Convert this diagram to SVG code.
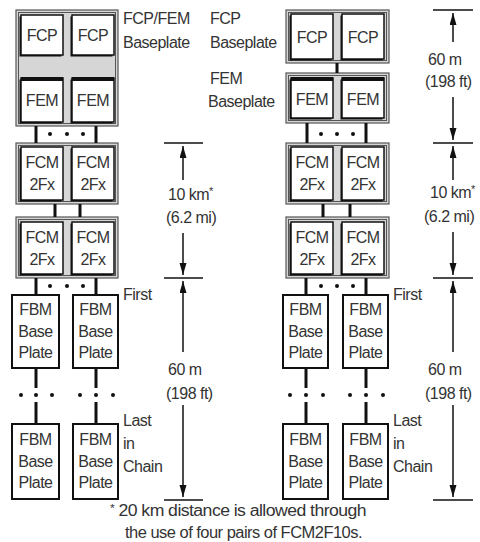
<svg xmlns="http://www.w3.org/2000/svg" width="480" height="542" viewBox="0 0 480 542">
<style>
.bg{fill:#fff}
.bp{fill:#d6d6d6;stroke:#555;stroke-width:1.2}
.bpi{fill:none;stroke:#555;stroke-width:1}
.shd{fill:#111}
.mod{fill:#fff;stroke:#111;stroke-width:1.5}
.fbm{fill:#fff;stroke:#111;stroke-width:2}
.t{font-family:"Liberation Sans",Arial,Helvetica,sans-serif;font-size:16px;fill:#333;letter-spacing:-0.5px}
.c{text-anchor:middle}
.sup{font-size:11px}
.con{stroke:#111;stroke-width:3;fill:none}
.dim{stroke:#111;stroke-width:1.5;fill:none}
.arr{stroke:#111;stroke-width:1.5;fill:none;marker-end:url(#ah)}
.dot{fill:#111}
</style>
<defs>
<marker id="ah" markerUnits="userSpaceOnUse" markerWidth="13" markerHeight="8" refX="12" refY="3.5" orient="auto">
<path d="M0,0 L12,3.5 L0,7 z" fill="#111"/>
</marker>
</defs>
<rect class="bg" x="0" y="0" width="480" height="542"/>

<!-- LEFT COLUMN -->
<g id="left-fcpfem-baseplate">
<rect class="bp" x="16" y="10" width="102" height="116"/>
<rect class="bpi" x="18.5" y="12.5" width="97" height="111"/>
</g>
<g id="left-fcp1">
<rect class="shd" x="19.5" y="16.5" width="42" height="40"/>
<rect class="mod" x="21" y="15" width="42" height="40"/>
<text class="t c" x="42" y="40.5">FCP</text>
</g>
<g id="left-fcp2">
<rect class="shd" x="70.5" y="16.5" width="42" height="40"/>
<rect class="mod" x="72" y="15" width="42" height="40"/>
<text class="t c" x="93" y="40.5">FCP</text>
</g>
<g id="left-fem1">
<rect class="shd" x="19.5" y="79.5" width="42" height="44"/>
<rect class="mod" x="21" y="78" width="42" height="44"/>
<rect class="shd" x="21" y="77" width="42" height="4"/>
<text class="t c" x="42" y="106">FEM</text>
</g>
<g id="left-fem2">
<rect class="shd" x="70.5" y="79.5" width="42" height="44"/>
<rect class="mod" x="72" y="78" width="42" height="44"/>
<rect class="shd" x="72" y="77" width="42" height="4"/>
<text class="t c" x="93" y="106">FEM</text>
</g>

<g id="left-fcm-baseplate1">
<rect class="bp" x="16" y="143" width="102" height="61"/>
<rect class="bpi" x="18.5" y="145.5" width="97" height="56"/>
<rect class="shd" x="19.5" y="148.5" width="42" height="53"/>
<rect class="mod" x="21" y="147" width="42" height="53"/>
<text class="t c" x="42" y="168">FCM</text>
<text class="t c" x="42" y="190">2Fx</text>
<rect class="shd" x="70.5" y="148.5" width="42" height="53"/>
<rect class="mod" x="72" y="147" width="42" height="53"/>
<text class="t c" x="93" y="168">FCM</text>
<text class="t c" x="93" y="190">2Fx</text>
</g>
<g id="left-fcm-baseplate2">
<rect class="bp" x="16" y="217" width="102" height="61"/>
<rect class="bpi" x="18.5" y="219.5" width="97" height="56"/>
<rect class="shd" x="19.5" y="223.5" width="42" height="52"/>
<rect class="mod" x="21" y="222" width="42" height="52"/>
<text class="t c" x="42" y="243">FCM</text>
<text class="t c" x="42" y="265">2Fx</text>
<rect class="shd" x="70.5" y="223.5" width="42" height="52"/>
<rect class="mod" x="72" y="222" width="42" height="52"/>
<text class="t c" x="93" y="243">FCM</text>
<text class="t c" x="93" y="265">2Fx</text>
</g>

<g id="left-fbm-first1">
<rect class="fbm" x="12" y="295" width="47" height="73"/>
<text class="t c" x="35.5" y="315">FBM</text>
<text class="t c" x="35.5" y="337">Base</text>
<text class="t c" x="35.5" y="358">Plate</text>
</g>
<g id="left-fbm-first2">
<rect class="fbm" x="73" y="295" width="45" height="73"/>
<text class="t c" x="95.5" y="315">FBM</text>
<text class="t c" x="95.5" y="337">Base</text>
<text class="t c" x="95.5" y="358">Plate</text>
</g>
<g id="left-fbm-last1">
<rect class="fbm" x="12" y="424" width="47" height="75"/>
<text class="t c" x="35.5" y="445">FBM</text>
<text class="t c" x="35.5" y="467">Base</text>
<text class="t c" x="35.5" y="488">Plate</text>
</g>
<g id="left-fbm-last2">
<rect class="fbm" x="73" y="424" width="45" height="75"/>
<text class="t c" x="95.5" y="445">FBM</text>
<text class="t c" x="95.5" y="467">Base</text>
<text class="t c" x="95.5" y="488">Plate</text>
</g>

<!-- RIGHT COLUMN -->
<g id="right-fcp-baseplate">
<rect class="bp" x="286" y="10" width="103" height="53"/>
<rect class="bpi" x="288.5" y="12.5" width="98" height="48"/>
<rect class="shd" x="289.5" y="15.5" width="42" height="45"/>
<rect class="mod" x="291" y="14" width="42" height="45"/>
<text class="t c" x="312" y="43">FCP</text>
<rect class="shd" x="340.5" y="15.5" width="42" height="45"/>
<rect class="mod" x="342" y="14" width="42" height="45"/>
<text class="t c" x="363" y="43">FCP</text>
</g>
<g id="right-fem-baseplate">
<rect class="bp" x="286" y="73" width="103" height="50"/>
<rect class="bpi" x="288.5" y="75.5" width="98" height="45"/>
<rect class="shd" x="289.5" y="79.5" width="42" height="40"/>
<rect class="mod" x="291" y="78" width="42" height="40"/>
<rect class="shd" x="291" y="77" width="42" height="4"/>
<text class="t c" x="312" y="105">FEM</text>
<rect class="shd" x="340.5" y="79.5" width="42" height="40"/>
<rect class="mod" x="342" y="78" width="42" height="40"/>
<rect class="shd" x="342" y="77" width="42" height="4"/>
<text class="t c" x="363" y="105">FEM</text>
</g>
<g id="right-fcm-baseplate1">
<rect class="bp" x="286" y="143" width="103" height="61"/>
<rect class="bpi" x="288.5" y="145.5" width="98" height="56"/>
<rect class="shd" x="289.5" y="148.5" width="42" height="53"/>
<rect class="mod" x="291" y="147" width="42" height="53"/>
<text class="t c" x="312" y="168">FCM</text>
<text class="t c" x="312" y="190">2Fx</text>
<rect class="shd" x="340.5" y="148.5" width="42" height="53"/>
<rect class="mod" x="342" y="147" width="42" height="53"/>
<text class="t c" x="363" y="168">FCM</text>
<text class="t c" x="363" y="190">2Fx</text>
</g>
<g id="right-fcm-baseplate2">
<rect class="bp" x="286" y="217" width="103" height="61"/>
<rect class="bpi" x="288.5" y="219.5" width="98" height="56"/>
<rect class="shd" x="289.5" y="223.5" width="42" height="52"/>
<rect class="mod" x="291" y="222" width="42" height="52"/>
<text class="t c" x="312" y="243">FCM</text>
<text class="t c" x="312" y="265">2Fx</text>
<rect class="shd" x="340.5" y="223.5" width="42" height="52"/>
<rect class="mod" x="342" y="222" width="42" height="52"/>
<text class="t c" x="363" y="243">FCM</text>
<text class="t c" x="363" y="265">2Fx</text>
</g>
<g id="right-fbm-first1">
<rect class="fbm" x="283" y="295" width="45" height="73"/>
<text class="t c" x="305.5" y="315">FBM</text>
<text class="t c" x="305.5" y="337">Base</text>
<text class="t c" x="305.5" y="358">Plate</text>
</g>
<g id="right-fbm-first2">
<rect class="fbm" x="343" y="295" width="45" height="73"/>
<text class="t c" x="365.5" y="315">FBM</text>
<text class="t c" x="365.5" y="337">Base</text>
<text class="t c" x="365.5" y="358">Plate</text>
</g>
<g id="right-fbm-last1">
<rect class="fbm" x="283" y="424" width="45" height="75"/>
<text class="t c" x="305.5" y="445">FBM</text>
<text class="t c" x="305.5" y="467">Base</text>
<text class="t c" x="305.5" y="488">Plate</text>
</g>
<g id="right-fbm-last2">
<rect class="fbm" x="343" y="424" width="45" height="75"/>
<text class="t c" x="365.5" y="445">FBM</text>
<text class="t c" x="365.5" y="467">Base</text>
<text class="t c" x="365.5" y="488">Plate</text>
</g>

<!-- CONNECTORS -->
<g id="connectors">
<line class="con" x1="36" y1="126" x2="36" y2="143"/>
<line class="con" x1="96" y1="126" x2="96" y2="143"/>
<line class="con" x1="55" y1="204" x2="55" y2="217"/>
<line class="con" x1="80" y1="204" x2="80" y2="217"/>
<line class="con" x1="36" y1="278" x2="36" y2="295"/>
<line class="con" x1="96" y1="278" x2="96" y2="295"/>
<line class="con" x1="36" y1="368" x2="36" y2="388"/>
<line class="con" x1="96" y1="368" x2="96" y2="388"/>
<line class="con" x1="36" y1="402" x2="36" y2="424"/>
<line class="con" x1="96" y1="402" x2="96" y2="424"/>
<line class="con" x1="337" y1="63" x2="337" y2="73"/>
<line class="con" x1="307" y1="123" x2="307" y2="143"/>
<line class="con" x1="366" y1="123" x2="366" y2="143"/>
<line class="con" x1="323" y1="204" x2="323" y2="217"/>
<line class="con" x1="350" y1="204" x2="350" y2="217"/>
<line class="con" x1="306" y1="278" x2="306" y2="295"/>
<line class="con" x1="366" y1="278" x2="366" y2="295"/>
<line class="con" x1="306" y1="368" x2="306" y2="388"/>
<line class="con" x1="366" y1="368" x2="366" y2="388"/>
<line class="con" x1="306" y1="402" x2="306" y2="424"/>
<line class="con" x1="366" y1="402" x2="366" y2="424"/>
<circle class="dot" cx="50" cy="134" r="2"/><circle class="dot" cx="67" cy="134" r="2"/><circle class="dot" cx="83" cy="134" r="2"/>
<circle class="dot" cx="50" cy="286" r="2"/><circle class="dot" cx="67" cy="286" r="2"/><circle class="dot" cx="83" cy="286" r="2"/>
<circle class="dot" cx="21" cy="395" r="2"/><circle class="dot" cx="36" cy="395" r="2"/><circle class="dot" cx="52" cy="395" r="2"/>
<circle class="dot" cx="80" cy="395" r="2"/><circle class="dot" cx="96" cy="395" r="2"/><circle class="dot" cx="113" cy="395" r="2"/>
<circle class="dot" cx="321" cy="134" r="2"/><circle class="dot" cx="337" cy="134" r="2"/><circle class="dot" cx="353" cy="134" r="2"/>
<circle class="dot" cx="321" cy="286" r="2"/><circle class="dot" cx="337" cy="286" r="2"/><circle class="dot" cx="353" cy="286" r="2"/>
<circle class="dot" cx="290" cy="395" r="2"/><circle class="dot" cx="306" cy="395" r="2"/><circle class="dot" cx="323" cy="395" r="2"/>
<circle class="dot" cx="350" cy="395" r="2"/><circle class="dot" cx="366" cy="395" r="2"/><circle class="dot" cx="383" cy="395" r="2"/>
</g>

<!-- DIMENSIONS -->
<g id="dimensions">
<line class="dim" x1="164" y1="143" x2="203" y2="143"/>
<line class="dim" x1="164" y1="278" x2="203" y2="278"/>
<line class="dim" x1="164" y1="500" x2="203" y2="500"/>
<line class="arr" x1="183" y1="180" x2="183" y2="146"/>
<line class="arr" x1="183" y1="233" x2="183" y2="275"/>
<line class="arr" x1="183" y1="352" x2="183" y2="281"/>
<line class="arr" x1="183" y1="405" x2="183" y2="497"/>
<line class="dim" x1="433" y1="10" x2="473" y2="10"/>
<line class="dim" x1="433" y1="143" x2="473" y2="143"/>
<line class="dim" x1="433" y1="278" x2="473" y2="278"/>
<line class="dim" x1="433" y1="500" x2="473" y2="500"/>
<line class="arr" x1="453" y1="42" x2="453" y2="13"/>
<line class="arr" x1="453" y1="97" x2="453" y2="140"/>
<line class="arr" x1="453" y1="180" x2="453" y2="146"/>
<line class="arr" x1="453" y1="232" x2="453" y2="275"/>
<line class="arr" x1="453" y1="352" x2="453" y2="281"/>
<line class="arr" x1="453" y1="405" x2="453" y2="497"/>
</g>

<!-- LABELS -->
<g id="labels">
<text class="t" x="123" y="24">FCP/FEM</text>
<text class="t" x="123" y="48">Baseplate</text>
<text class="t" x="210" y="24">FCP</text>
<text class="t" x="210" y="48">Baseplate</text>
<text class="t" x="210" y="84">FEM</text>
<text class="t" x="208" y="107">Baseplate</text>
<text class="t" x="123" y="300">First</text>
<text class="t" x="393" y="300">First</text>
<text class="t" x="123" y="426">Last</text>
<text class="t" x="123" y="449">in</text>
<text class="t" x="123" y="472">Chain</text>
<text class="t" x="393" y="426">Last</text>
<text class="t" x="393" y="449">in</text>
<text class="t" x="393" y="472">Chain</text>
<text class="t" x="168" y="200">10 km<tspan class="sup" dy="-5">*</tspan></text>
<text class="t" x="166" y="223">(6.2 mi)</text>
<text class="t" x="168" y="375">60 m</text>
<text class="t" x="166" y="399">(198 ft)</text>
<text class="t" x="428" y="65">60 m</text>
<text class="t" x="425" y="87">(198 ft)</text>
<text class="t" x="430" y="198">10 km<tspan class="sup" dy="-5">*</tspan></text>
<text class="t" x="424" y="222">(6.2 mi)</text>
<text class="t" x="428" y="375">60 m</text>
<text class="t" x="425" y="399">(198 ft)</text>
<text class="t" x="110" y="516" textLength="256" lengthAdjust="spacingAndGlyphs"><tspan class="sup" dy="-4">*</tspan><tspan dy="4"> 20 km distance is allowed through</tspan></text>
<text class="t" x="125" y="538" textLength="237" lengthAdjust="spacingAndGlyphs">the use of four pairs of FCM2F10s.</text>
</g>
</svg>
